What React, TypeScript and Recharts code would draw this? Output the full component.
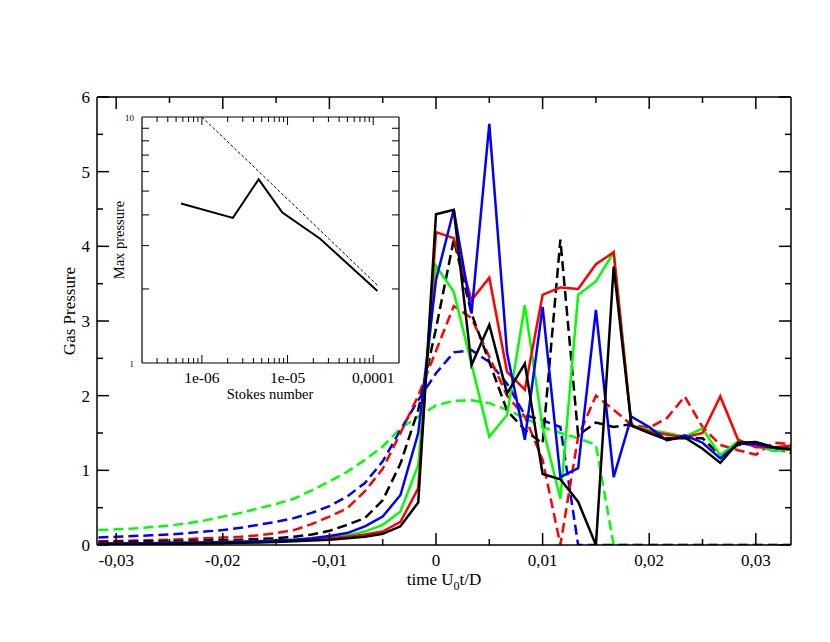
import { LineChart, Line, XAxis, YAxis } from 'recharts';

const FONT = '"Liberation Serif", "Times New Roman", serif';

// time axis (U0 t / D), one sample every 1/600
const TIME = [
  -0.031667, -0.03, -0.028333, -0.026667, -0.025, -0.023333, -0.021667, -0.02, -0.018333, -0.016667,
  -0.015, -0.013333, -0.011667, -0.01, -0.008333, -0.006667, -0.005, -0.003333, -0.001667, 0,
  0.001667, 0.003333, 0.005, 0.006667, 0.008333, 0.01, 0.011667, 0.013333, 0.015, 0.016667,
  0.018333, 0.02, 0.021667, 0.023333, 0.025, 0.026667, 0.028333, 0.03, 0.031667, 0.033333,
];

const BLACK_SOLID = [
  0.01, 0.01, 0.01, 0.015, 0.015, 0.02, 0.02, 0.025, 0.03, 0.035, 0.04, 0.05, 0.06, 0.07, 0.09, 0.11, 0.15, 0.25, 0.57,
  4.43, 4.49, 2.41, 2.95, 2.03, 2.43, 0.95, 0.88, 0.58, 0, 3.73, 1.6, 1.5, 1.41, 1.44, 1.29, 1.1, 1.37, 1.38, 1.31, 1.28,
];
const RED_SOLID = [
  0.02, 0.02, 0.02, 0.02, 0.025, 0.025, 0.03, 0.03, 0.035, 0.04, 0.05, 0.06, 0.07, 0.09, 0.11, 0.14, 0.18, 0.31, 0.76,
  4.19, 4.11, 3.28, 3.58, 2.32, 2.08, 3.35, 3.45, 3.43, 3.76, 3.92, 1.6, 1.52, 1.48, 1.44, 1.5, 1.99, 1.41, 1.31, 1.31, 1.33,
];
const GREEN_SOLID = [
  0.02, 0.02, 0.025, 0.025, 0.03, 0.03, 0.035, 0.04, 0.045, 0.05, 0.06, 0.07, 0.08, 0.1, 0.13, 0.18, 0.27, 0.45, 1.07,
  3.74, 3.39, 2.42, 1.45, 1.74, 3.21, 1.58, 0.62, 3.35, 3.53, 3.92, 1.6, 1.54, 1.5, 1.45, 1.56, 1.2, 1.39, 1.33, 1.26, 1.28,
];
const BLUE_SOLID = [
  0.02, 0.02, 0.025, 0.025, 0.03, 0.03, 0.035, 0.04, 0.045, 0.05, 0.06, 0.07, 0.09, 0.12, 0.16, 0.25, 0.38, 0.67, 1.5,
  3.55, 4.49, 3.1, 5.64, 2.57, 1.41, 3.19, 0.91, 1.03, 3.15, 0.91, 1.72, 1.58, 1.4, 1.47, 1.37, 1.16, 1.36, 1.35, 1.3, 1.29,
];
const BLACK_DASHED = [
  0.04, 0.04, 0.045, 0.05, 0.05, 0.055, 0.06, 0.065, 0.07, 0.08, 0.09, 0.11, 0.14, 0.19, 0.27, 0.36, 0.6, 1.09, 1.81,
  2.9, 4.09, 3.1, 2.45, 1.8, 1.54, 1.36, 4.09, 1.47, 1.64, 1.58, 1.62, 1.52, 1.43, 1.43, 1.43, 1.2, 1.34, 1.36, 1.3, 1.23,
];
const RED_DASHED = [
  0.05, 0.055, 0.06, 0.065, 0.07, 0.08, 0.09, 0.1, 0.11, 0.13, 0.16, 0.2, 0.28, 0.38, 0.49, 0.72, 1.02, 1.5, 2.0,
  2.6, 3.2, 3.04, 2.52, 2.0, 1.72, 1.14, 0, 1.45, 2.0, 1.81, 1.61, 1.57, 1.7, 1.99, 1.58, 1.34, 1.27, 1.21, 1.37, 1.35,
];
const GREEN_DASHED = [
  0.2, 0.21, 0.22, 0.24, 0.26, 0.29, 0.33, 0.38, 0.43, 0.49, 0.55, 0.62, 0.73, 0.85, 0.98, 1.14, 1.32, 1.56, 1.72,
  1.87, 1.93, 1.94, 1.9, 1.81, 1.7, 1.58, 1.5, 1.43, 1.34, 0, 0, 0, 0, 0, 0, 0, 0, 0, 0, 0,
];
const BLUE_DASHED = [
  0.1, 0.11, 0.12, 0.13, 0.14, 0.16, 0.18, 0.2, 0.23, 0.27, 0.31, 0.36, 0.43, 0.52, 0.65, 0.83, 1.12, 1.54, 1.94,
  2.3, 2.58, 2.61, 2.45, 2.16, 1.74, 1.67, 1.58, 0, 0, 0, 0, 0, 0, 0, 0, 0, 0, 0, 0, 0,
];

const X_MAJOR = [-0.03, -0.02, -0.01, 0, 0.01, 0.02, 0.03];
const X_MINOR = [-0.025, -0.015, -0.005, 0.005, 0.015, 0.025];
const Y_MAJOR = [0, 1, 2, 3, 4, 5, 6];
const Y_MINOR = [0.5, 1.5, 2.5, 3.5, 4.5, 5.5];

// inset: max pressure vs Stokes number (log-log)
const STOKES = [5.7e-7, 2.3e-6, 4.6e-6, 8.7e-6, 2.4e-5, 1.12e-4];
const MAX_PRESSURE = [4.45, 3.89, 5.58, 4.09, 3.2, 1.96];
const FIT_STOKES = [1e-6, 1.12e-4];
const FIT_PRESSURE = [10, 2.07];

const INSET_X_MAJOR = [1e-6, 1e-5, 1e-4];
const INSET_X_LABELS = ['1e-06', '1e-05', '0,0001'];
const INSET_X_MINOR = [
  3e-7, 4e-7, 5e-7, 6e-7, 7e-7, 8e-7, 9e-7,
  2e-6, 3e-6, 4e-6, 5e-6, 6e-6, 7e-6, 8e-6, 9e-6,
  2e-5, 3e-5, 4e-5, 5e-5, 6e-5, 7e-5, 8e-5, 9e-5,
];
const INSET_Y_TICKS = [1, 2, 3, 4, 5, 6, 7, 8, 9, 10];

const rows = TIME.map((t, i) => ({
  t,
  bs: BLACK_SOLID[i],
  rs: RED_SOLID[i],
  gs: GREEN_SOLID[i],
  us: BLUE_SOLID[i],
  bd: BLACK_DASHED[i],
  rd: RED_DASHED[i],
  gd: GREEN_DASHED[i],
  ud: BLUE_DASHED[i],
}));
const insetRows = STOKES.map((s, i) => ({ s, p: MAX_PRESSURE[i] }));
const fitRows = FIT_STOKES.map((s, i) => ({ s, p: FIT_PRESSURE[i] }));

const comma = (v: number) => String(v).replace('.', ',');
const xTicks = [...X_MAJOR, ...X_MINOR].sort((a, b) => a - b);
const yTicks = [...Y_MAJOR, ...Y_MINOR].sort((a, b) => a - b);
const insetXTicks = [...INSET_X_MAJOR, ...INSET_X_MINOR].sort((a, b) => a - b);

const tickStroke = { stroke: '#000', strokeWidth: 1.5 };
const serif = { fontFamily: FONT };

const BottomTick = ({ x, y, payload }: any) => {
  const major = X_MAJOR.includes(payload.value);
  return (
    <g>
      <line x1={x} x2={x} y1={y} y2={y - (major ? 12 : 6)} {...tickStroke} />
      {major && (
        <text x={x} y={y + 21} textAnchor="middle" fontSize={17} style={serif} fill="#000">
          {comma(payload.value)}
        </text>
      )}
    </g>
  );
};
const TopTick = ({ x, y, payload }: any) => {
  const major = X_MAJOR.includes(payload.value);
  return <line x1={x} x2={x} y1={y} y2={y + (major ? 12 : 6)} {...tickStroke} />;
};
const LeftTick = ({ x, y, payload }: any) => {
  const major = Y_MAJOR.includes(payload.value);
  return (
    <g>
      <line x1={x} x2={x + (major ? 12 : 6)} y1={y} y2={y} {...tickStroke} />
      {major && (
        <text x={x - 7} y={y + 6} textAnchor="end" fontSize={17} style={serif} fill="#000">
          {payload.value}
        </text>
      )}
    </g>
  );
};
const RightTick = ({ x, y, payload }: any) => {
  const major = Y_MAJOR.includes(payload.value);
  return <line x1={x} x2={x - (major ? 12 : 6)} y1={y} y2={y} {...tickStroke} />;
};

const InsetBottomTick = ({ x, y, payload }: any) => {
  const idx = INSET_X_MAJOR.indexOf(payload.value);
  return (
    <g>
      <line x1={x} x2={x} y1={y} y2={y - (idx >= 0 ? 8 : 5)} stroke="#000" strokeWidth={1} />
      {idx >= 0 && (
        <text x={x} y={y + 20} textAnchor="middle" fontSize={15.5} style={serif} fill="#000">
          {INSET_X_LABELS[idx]}
        </text>
      )}
    </g>
  );
};
const InsetTopTick = ({ x, y, payload }: any) => {
  const major = INSET_X_MAJOR.includes(payload.value);
  return <line x1={x} x2={x} y1={y} y2={y + (major ? 8 : 5)} stroke="#000" strokeWidth={1} />;
};
const InsetLeftTick = ({ x, y, payload }: any) => {
  const v = payload.value;
  const edge = v === 1 || v === 10;
  return (
    <g>
      {!edge && <line x1={x} x2={x + 7} y1={y} y2={y} stroke="#000" strokeWidth={1} />}
      {edge && (
        <text x={x - 8} y={y + 4} textAnchor="end" fontSize={9} style={serif} fill="#000">
          {v}
        </text>
      )}
    </g>
  );
};
const InsetRightTick = ({ x, y, payload }: any) => {
  const v = payload.value;
  if (v === 1 || v === 10) return <g />;
  return <line x1={x} x2={x - 7} y1={y} y2={y} stroke="#000" strokeWidth={1} />;
};

const axisLine = { stroke: '#000', strokeWidth: 1.5 };
const DASH = '10 5';

export default function App() {
  return (
    <div style={{ position: 'absolute', left: 0, top: 0, width: 830, height: 642, background: '#fff' }}>
      <LineChart width={830} height={642} data={rows} margin={{ top: 96, right: 38, bottom: 96, left: 96 }}>
        <XAxis
          xAxisId="b"
          dataKey="t"
          type="number"
          domain={[-0.0318, 0.0333]}
          allowDataOverflow
          ticks={xTicks}
          interval={0}
          height={1}
          tickSize={0}
          tickMargin={0}
          tickLine={false}
          axisLine={axisLine}
          tick={(p: any) => <BottomTick {...p} />}
        />
        <XAxis
          xAxisId="t"
          orientation="top"
          dataKey="t"
          type="number"
          domain={[-0.0318, 0.0333]}
          allowDataOverflow
          ticks={xTicks}
          interval={0}
          height={1}
          tickSize={0}
          tickMargin={0}
          tickLine={false}
          axisLine={axisLine}
          tick={(p: any) => <TopTick {...p} />}
        />
        <YAxis
          yAxisId="l"
          type="number"
          domain={[0, 6]}
          allowDataOverflow
          ticks={yTicks}
          interval={0}
          width={1}
          tickSize={0}
          tickMargin={0}
          tickLine={false}
          axisLine={axisLine}
          tick={(p: any) => <LeftTick {...p} />}
        />
        <YAxis
          yAxisId="r"
          orientation="right"
          type="number"
          domain={[0, 6]}
          allowDataOverflow
          ticks={yTicks}
          interval={0}
          width={1}
          tickSize={0}
          tickMargin={0}
          tickLine={false}
          axisLine={axisLine}
          tick={(p: any) => <RightTick {...p} />}
        />
        <Line xAxisId="b" yAxisId="l" dataKey="gd" stroke="#00ff00" strokeWidth={2.5} strokeDasharray={DASH} dot={false} isAnimationActive={false} />
        <Line xAxisId="b" yAxisId="l" dataKey="ud" stroke="#0000ff" strokeWidth={2.5} strokeDasharray={DASH} dot={false} isAnimationActive={false} />
        <Line xAxisId="b" yAxisId="l" dataKey="rd" stroke="#ff0000" strokeWidth={2.5} strokeDasharray={DASH} dot={false} isAnimationActive={false} />
        <Line xAxisId="b" yAxisId="l" dataKey="bd" stroke="#000000" strokeWidth={2.5} strokeDasharray={DASH} dot={false} isAnimationActive={false} />
        <Line xAxisId="b" yAxisId="l" dataKey="gs" stroke="#00ff00" strokeWidth={2.5} dot={false} isAnimationActive={false} />
        <Line xAxisId="b" yAxisId="l" dataKey="rs" stroke="#ff0000" strokeWidth={2.5} dot={false} isAnimationActive={false} />
        <Line xAxisId="b" yAxisId="l" dataKey="us" stroke="#0000ff" strokeWidth={2.5} dot={false} isAnimationActive={false} />
        <Line xAxisId="b" yAxisId="l" dataKey="bs" stroke="#000000" strokeWidth={2.5} dot={false} isAnimationActive={false} />
      </LineChart>

      <div style={{ position: 'absolute', left: 100, top: 100, width: 320, height: 320 }}>
        <LineChart width={320} height={320} margin={{ top: 16, right: 20, bottom: 56, left: 41 }}>
          <XAxis
            xAxisId="b"
            dataKey="s"
            type="number"
            scale="log"
            domain={[2e-7, 2e-4]}
            allowDataOverflow
            ticks={insetXTicks}
            interval={0}
            height={1}
            tickSize={0}
            tickMargin={0}
            tickLine={false}
            axisLine={{ stroke: '#000', strokeWidth: 1.2 }}
            tick={(p: any) => <InsetBottomTick {...p} />}
          />
          <XAxis
            xAxisId="t"
            orientation="top"
            dataKey="s"
            type="number"
            scale="log"
            domain={[2e-7, 2e-4]}
            allowDataOverflow
            ticks={insetXTicks}
            interval={0}
            height={1}
            tickSize={0}
            tickMargin={0}
            tickLine={false}
            axisLine={{ stroke: '#000', strokeWidth: 1.2 }}
            tick={(p: any) => <InsetTopTick {...p} />}
          />
          <YAxis
            yAxisId="l"
            type="number"
            scale="log"
            domain={[1, 10]}
            allowDataOverflow
            ticks={INSET_Y_TICKS}
            interval={0}
            width={1}
            tickSize={0}
            tickMargin={0}
            tickLine={false}
            axisLine={{ stroke: '#000', strokeWidth: 1.2 }}
            tick={(p: any) => <InsetLeftTick {...p} />}
          />
          <YAxis
            yAxisId="r"
            orientation="right"
            type="number"
            scale="log"
            domain={[1, 10]}
            allowDataOverflow
            ticks={INSET_Y_TICKS}
            interval={0}
            width={1}
            tickSize={0}
            tickMargin={0}
            tickLine={false}
            axisLine={{ stroke: '#000', strokeWidth: 1.2 }}
            tick={(p: any) => <InsetRightTick {...p} />}
          />
          <Line xAxisId="b" yAxisId="l" data={fitRows} dataKey="p" stroke="#000" strokeWidth={1} strokeDasharray="3 2" dot={false} isAnimationActive={false} />
          <Line xAxisId="b" yAxisId="l" data={insetRows} dataKey="p" stroke="#000" strokeWidth={2} dot={false} isAnimationActive={false} />
        </LineChart>
      </div>

      <svg width={830} height={642} style={{ position: 'absolute', left: 0, top: 0, pointerEvents: 'none' }}>
        <g style={serif} fill="#000">
          <text x={444} y={585} textAnchor="middle" fontSize={17}>
            time U<tspan dy={5} fontSize={12}>0</tspan>
            <tspan dy={-5}>t/D</tspan>
          </text>
          <text transform="translate(75,311) rotate(-90)" textAnchor="middle" fontSize={17}>
            Gas Pressure
          </text>
          <text x={270} y={399} textAnchor="middle" fontSize={14.5}>
            Stokes number
          </text>
          <text transform="translate(124,240) rotate(-90)" textAnchor="middle" fontSize={14.5}>
            Max pressure
          </text>
        </g>
      </svg>
    </div>
  );
}
